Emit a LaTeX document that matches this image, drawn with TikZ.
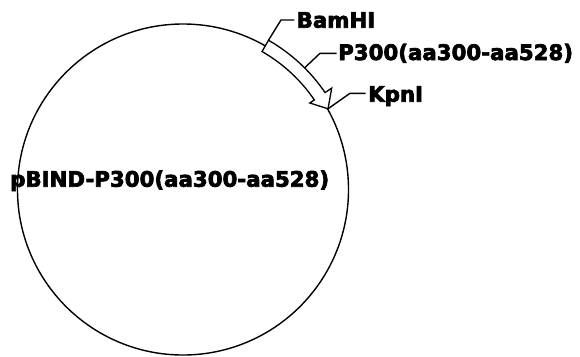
\documentclass[tikz,border=0pt]{standalone}
\usepackage{fontspec}
\newfontfamily\heavyfont{DejaVu Sans Bold}[FakeBold=3.2]
\usetikzlibrary{calc}
\begin{document}
\begin{tikzpicture}[x=1pt,y=-1pt,
  lbl/.style={anchor=base west,inner sep=0pt,font=\fontsize{21.3}{24}\heavyfont},
  leader/.style={line width=1.4pt},
  ring/.style={line width=1.4pt},
  feat/.style={line width=1.3pt,fill=white,line join=miter}]
\useasboundingbox (0,0) rectangle (580,356);
\coordinate (c) at (183,189.5);
\draw[ring] (c) circle[radius=165.5pt];
% feature arrow
\draw[feat] ($(c)+(60.2:172pt)$) arc[start angle=60.2,end angle=34.3,radius=172pt]
  -- ($(c)+(34.3:180pt)$) -- ($(c)+(29.1:166pt)$) -- ($(c)+(34.3:153.5pt)$)
  -- ($(c)+(34.3:159pt)$) arc[start angle=34.3,end angle=60.2,radius=159pt] -- cycle;
\coordinate (bamA) at ($(c)+(60.2:172pt)$);
\coordinate (p3A) at ($(c)+(45:172pt)$);
\coordinate (kpnA) at ($(c)+(29.1:166pt)$);
\node[lbl] (bam) at (296.5,27.7) {BamHI};
\node[lbl] (p3) at (338,60) {P300(aa300-aa528)};
\node[lbl] (kpn) at (368,101.7) {KpnI};
\node[lbl] (name) at (10,186.7) {pBIND-P300(aa300-aa528)};
\draw[leader] (bamA) -- (281,20) -- (294.3,20);
\draw[leader] (p3A) -- (320,53.3) -- (336.5,53.3);
\draw[leader] (kpnA) -- (350,93.3) -- (365.5,93.3);
\end{tikzpicture}
\end{document}
